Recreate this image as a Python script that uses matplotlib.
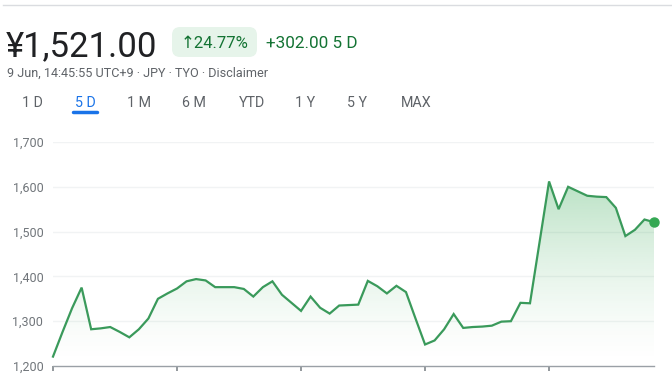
import numpy as np
import matplotlib
matplotlib.use("Agg")
import matplotlib.pyplot as plt
from matplotlib.patches import FancyBboxPatch

plt.rcParams['font.family'] = ['Roboto', 'DejaVu Sans']

# 5-day price series (JPY), sampled at even intervals
prices = [1221, 1276, 1329, 1375, 1282, 1284, 1287, 1276, 1264, 1282,
          1306, 1350, 1362, 1373, 1389, 1394, 1391, 1376, 1376, 1376,
          1372, 1355, 1376, 1389, 1359, 1341, 1323, 1355, 1330, 1317,
          1335, 1336, 1337, 1390, 1378, 1362, 1379, 1365, 1306, 1248,
          1257, 1282, 1316, 1285, 1287, 1288, 1290, 1299, 1300, 1341,
          1340, 1476, 1612, 1550, 1600, 1590, 1580, 1578, 1577, 1553,
          1490, 1504, 1527, 1521]
day_ticks = [0, 13, 26, 39, 52]
y_ticks = [1200, 1300, 1400, 1500, 1600, 1700]
tabs = ['1 D', '5 D', '1 M', '6 M', 'YTD', '1 Y', '5 Y', 'MAX']
tab_x = [32, 85, 139, 194, 252, 305, 357, 416]

W, H = 672, 375
fig = plt.figure(figsize=(W / 100, H / 100), dpi=100)
fig.patch.set_facecolor('white')


def px(x, y):
    return x / W, 1 - y / H


# header
fig.add_artist(plt.Line2D([3 / W, 1], [1 - 5 / H] * 2, color='#dadce0', lw=1))
fig.text(*px(6, 56), '¥1,521.00', fontsize=25, color='#202124', va='baseline')
badge = FancyBboxPatch(px(172, 57), 85 / W, 30 / H, transform=fig.transFigure,
                       boxstyle='round,pad=0,rounding_size=0.012',
                       fc='#e6f4ea', ec='none', mutation_aspect=W / H)
fig.add_artist(badge)
fig.text(*px(181, 48), '↑24.77%', fontsize=12, color='#137333', va='baseline')
fig.text(*px(266, 48), '+302.00 5 D', fontsize=12.3, color='#137333', va='baseline')
fig.text(*px(7, 77), '9 Jun, 14:45:55 UTC+9 · JPY · TYO · Disclaimer',
         fontsize=9.1, color='#5f6368', va='baseline')
for lab, x in zip(tabs, tab_x):
    c = '#1a73e8' if lab == '5 D' else '#5f6368'
    fig.text(*px(x, 107), lab, fontsize=10.3, color=c, va='baseline', ha='center')
fig.add_artist(plt.Line2D([73 / W, 97 / W], [1 - 111.5 / H] * 2, color='#1a73e8',
                          lw=2.5, solid_capstyle='round'))

# chart
ax = fig.add_axes([53 / W, 1 - 366 / H, 601 / W, 224 / H])
x = np.arange(len(prices))
ax.set_xlim(0, len(prices) - 1)
ax.set_ylim(1200, 1700)

for yv in y_ticks[1:]:
    ax.axhline(yv, color='#f1f3f4', lw=1, zorder=0)

green = '#34a853'
poly = ax.fill_between(x, prices, 1200, color='none', lw=0)
grad = np.linspace(0, 1, 256).reshape(-1, 1)
rgba = np.zeros((256, 1, 4))
rgba[..., :3] = matplotlib.colors.to_rgb(green)
rgba[..., 3] = 0.34 * grad[::-1] ** 1.5
img = ax.imshow(rgba, extent=[0, len(prices) - 1, 1200, max(prices)],
                aspect='auto', origin='upper', zorder=1)
img.set_clip_path(poly.get_paths()[0], transform=ax.transData)
ax.set_ylim(1200, 1700)

ax.plot(x, prices, color='#3a9a5b', lw=1.6, zorder=3, solid_joinstyle='miter',
        clip_on=False)
ax.plot(x[-1], prices[-1], 'o', color='#34a853', ms=6.5, zorder=4, clip_on=False)

for s in ['top', 'right', 'left']:
    ax.spines[s].set_visible(False)
ax.spines['bottom'].set_color('#9aa0a6')
ax.spines['bottom'].set_linewidth(1)
ax.set_xticks(day_ticks)
ax.set_xticklabels([])
ax.tick_params(axis='x', length=3.5, width=1.2, color='#80868b')
ax.set_yticks(y_ticks)
ax.set_yticklabels([f'{v:,}' for v in y_ticks])
ax.tick_params(axis='y', length=0, pad=7, labelsize=9, labelcolor='#70757a')

fig.savefig('out.png', dpi=100)
